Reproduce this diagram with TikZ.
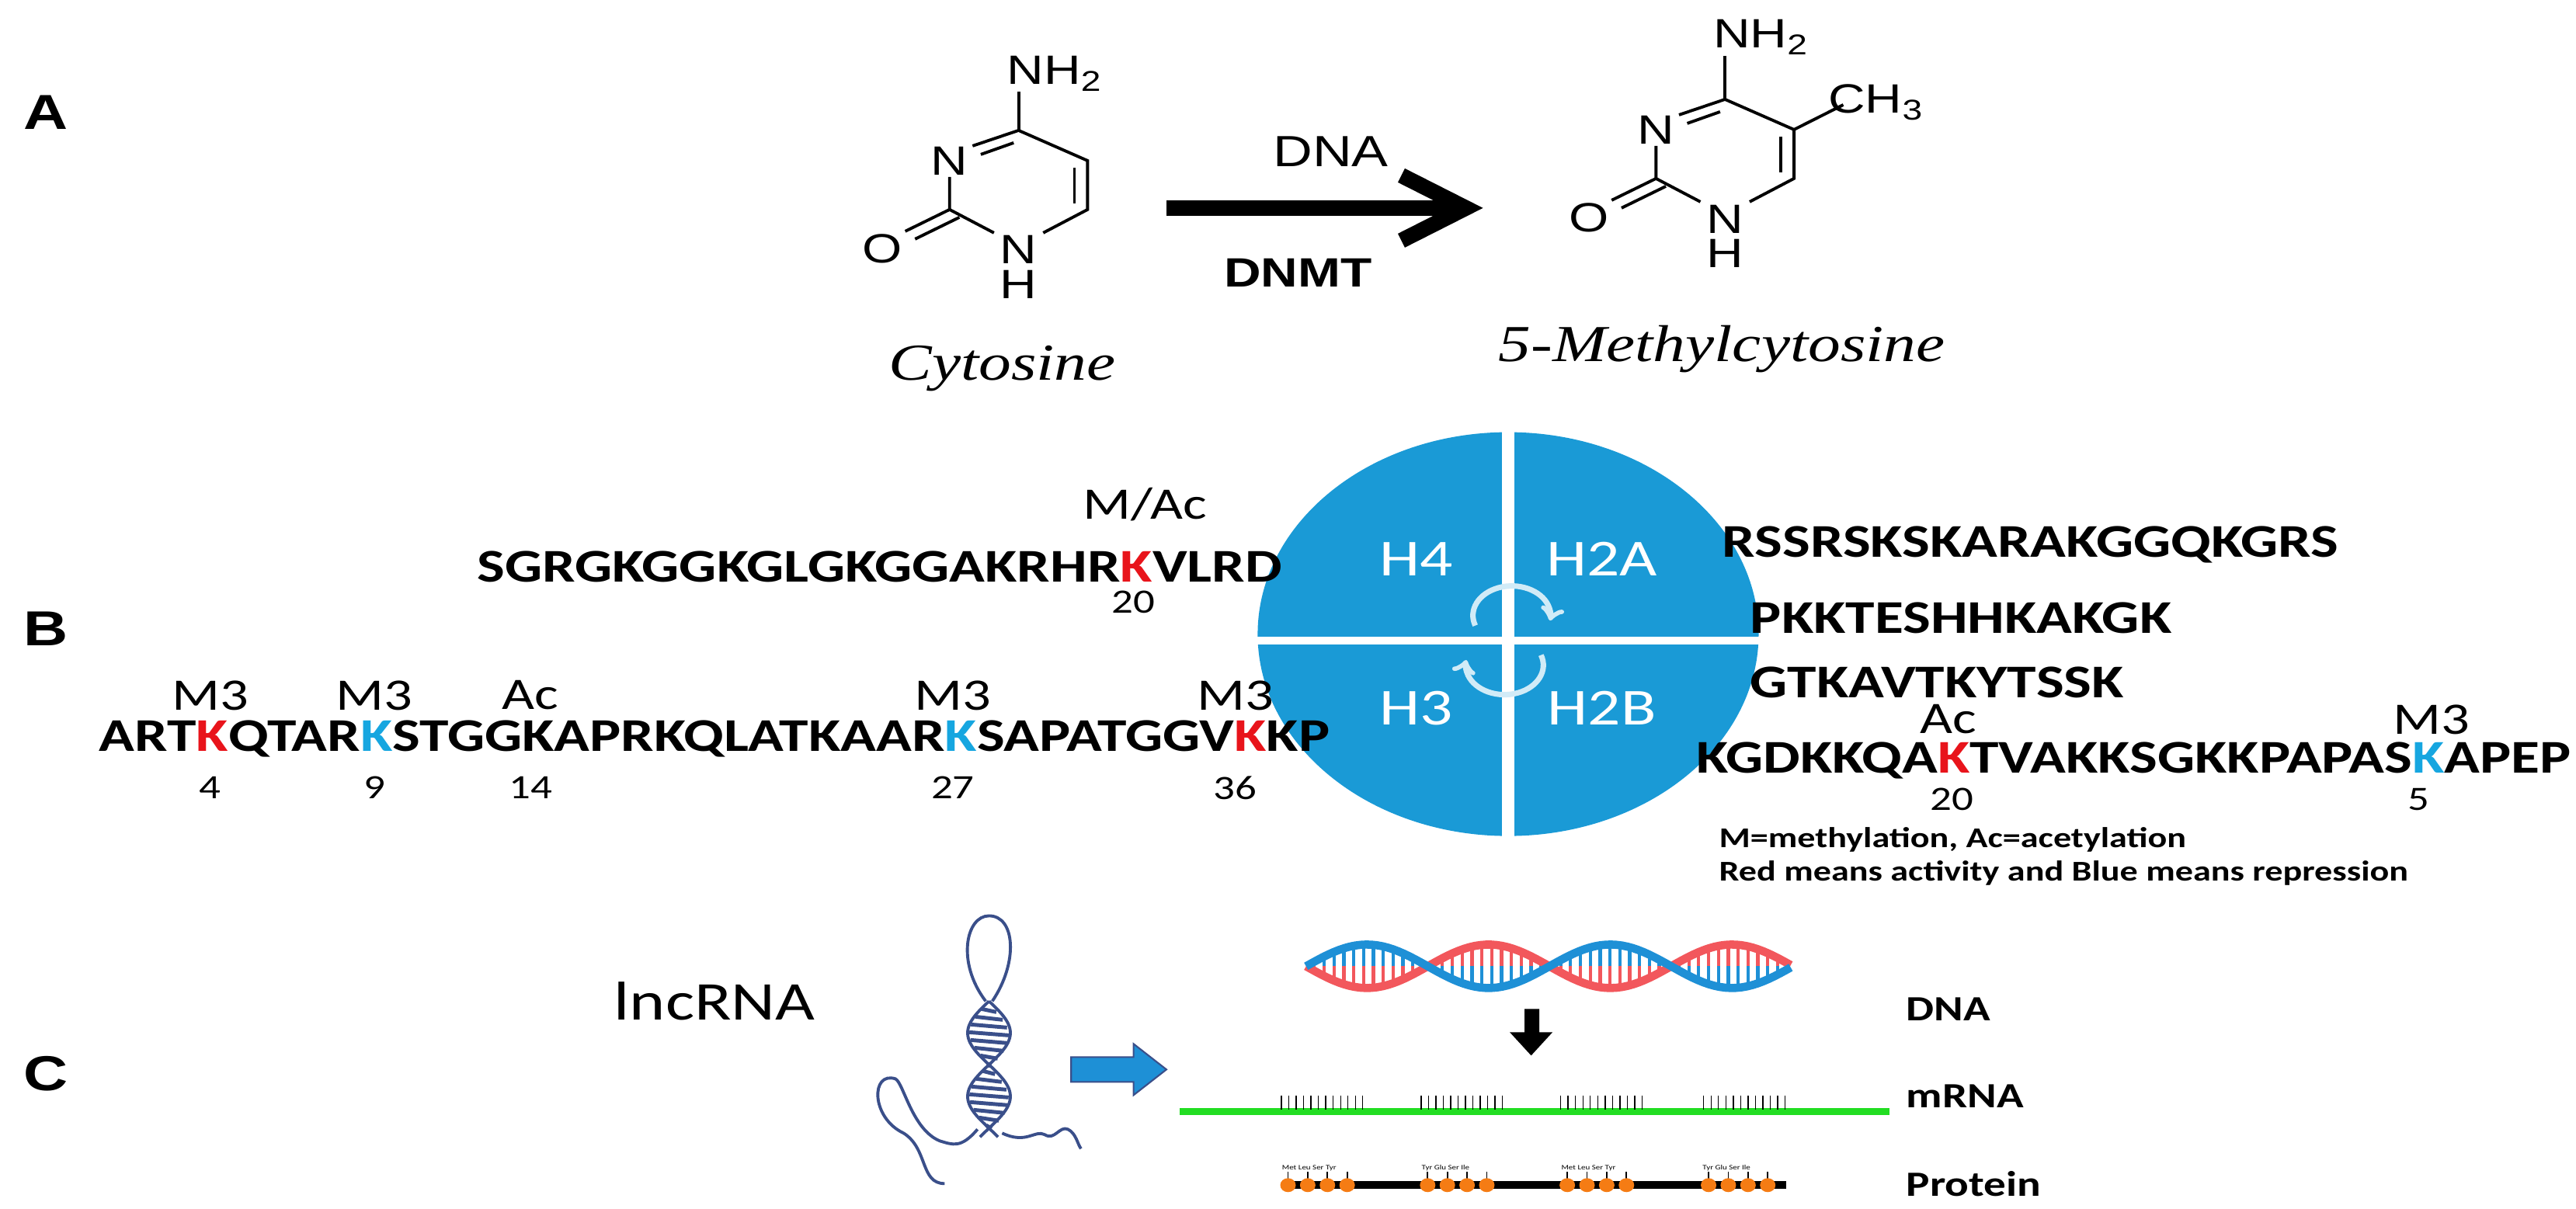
\documentclass[tikz,border=0pt]{standalone}
\usepackage{fontspec}
\setmainfont{Carlito}
\newfontfamily\arialf{Liberation Sans}
\newfontfamily\timesf{Liberation Serif}
\usepackage{xcolor}
\usetikzlibrary{calc}
\definecolor{kred}{HTML}{E8141B}
\definecolor{kblue}{HTML}{16A6E0}
\definecolor{hblue}{HTML}{1A9AD6}
\definecolor{rnablue}{HTML}{3A4F8A}
\definecolor{dnared}{HTML}{F2575C}
\definecolor{dnablue}{HTML}{1E90D6}
\definecolor{mgreen}{HTML}{22DD22}
\definecolor{aaorange}{HTML}{F57C14}
\newcommand{\kr}{\textcolor{kred}{K}}
\newcommand{\kb}{\textcolor{kblue}{K}}
\tikzset{
  atom/.style={font=\arialf\fontsize{15}{15}\selectfont, inner sep=0pt},
  bond/.style={line width=1.1pt},
  seq/.style={font=\bfseries\fontsize{17.2}{18}\selectfont, inner sep=0pt, anchor=base west},
  ptm/.style={font=\fontsize{16.5}{17}\selectfont, inner sep=0pt},
  resnum/.style={font=\fontsize{12.5}{13}\selectfont, inner sep=0pt},
  panel/.style={font=\arialf\bfseries\fontsize{18}{18}\selectfont, inner sep=0pt},
  hist/.style={font=\fontsize{19}{19}\selectfont, text=white, inner sep=0pt},
  lbl/.style={font=\bfseries\fontsize{13}{13}\selectfont, inner sep=0pt, anchor=west}
}
\newcommand{\cytring}{%
	\draw[bond] (620,168) -- (662,207) -- (662,270) -- (635,300);
	\draw[bond] (654,216) -- (654,262);
	\draw[bond] (605,300) -- (578,270) -- (578,228);
	\draw[bond] (592,188) -- (620,168);
	\draw[bond] (597,199) -- (617,184);
	\draw[bond] (578,270) -- (551,298);
	\draw[bond] (584,280) -- (557,308);
	\node[atom] (n3) at (578,207) {N};
	\node[atom] (n1) at (620,322) {N};
	\node[atom] (h1) at (620,367) {H};
	\node[atom] (o2) at (537,320) {O};
}
\begin{document}
\begin{tikzpicture}[x=0.01692cm, y=-0.01cm, xscale=1.25, every node/.append style={transform shape}]
	\useasboundingbox (0,0) rectangle (1568,1557);
	% A
	\node[panel] (pa) at (28,145) {A};
	\cytring
	\node[atom] (nh2a) at (642,95) {NH\textsubscript{2}};
	\draw[bond] (620,118) -- (620,168);
	\node[font=\timesf\itshape\fontsize{19}{19}\selectfont] (cyt) at (610,475) {Cytosine};
	\begin{scope}[shift={(430,-40)}]
		\cytring
		\node[atom] (nh2b) at (642,88) {NH\textsubscript{2}};
		\draw[bond] (620,112) -- (620,168);
		\draw[bond] (662,207) -- (692,175);
		\node[atom] (ch3) at (712,172) {CH\textsubscript{3}};
	\end{scope}
	\node[font=\timesf\itshape\fontsize{19}{19}\selectfont] (mcyt) at (1048,450) {5-Methylcytosine};
	\coordinate (a0) at (710,268);
	\coordinate (a1) at (892,268);
	\draw[line width=5.7pt] (a0) -- (a1);
	\draw[line width=5.7pt, line join=miter] (853,226) -- (a1) -- (853,310);
	\node[font=\arialf\fontsize{16}{16}\selectfont] (dna) at (810,195) {DNA};
	\node[font=\arialf\bfseries\fontsize{15}{15}\selectfont] (dnmt) at (790,352) {DNMT};
	% B
	\node[panel] (pb) at (28,810) {B};
	\fill[hblue] (918,817) ellipse [x radius=2.58cm, y radius=2.6cm];
	\fill[white] (914,555) rectangle (922,1080);
	\fill[white] (760,820) rectangle (1075,830);
	\node[hist] (h4) at (862,720) {H4};
	\node[hist] (h2a) at (975,720) {H2A};
	\node[hist] (h3) at (862,912) {H3};
	\node[hist] (h2b) at (975,912) {H2B};
	\draw[white!80!hblue, line width=2pt, ->] (898,806) arc [start angle=200, end angle=-10, x radius=0.4cm, y radius=0.38cm];
	\draw[white!80!hblue, line width=2pt, ->] (938,844) arc [start angle=20, end angle=-190, x radius=0.4cm, y radius=0.38cm];
	% H4 tail
	\node[seq] (h4s) at (290,750) {SGRGKGGKGLGKGGAKRHR\kr VLRD};
	\node[ptm] at (697,650) {M/Ac};
	\node[resnum] at (690,776) {20};
	% H3 tail
	\node[seq] (h3s) at (60,968) {ART\kr QTAR\kb STGGKAPRKQLATKAAR\kb SAPATGGV\kr KP};
	\foreach \x/\m/\n in {128/M3/4, 228/M3/9, 323/Ac/14, 580/M3/27, 752/M3/36} {
		\node[ptm] at (\x,896) {\m};
		\node[resnum] at (\x,1015) {\n};
	}
	% H2A / H2B tails
	\node[seq] (h2as) at (1048,718) {RSSRSKSKARAKGGQKGRS};
	\node[seq] (h2am) at (1065,816) {PKKTESHHKAKGK};
	\node[seq] (h2bs) at (1065,899) {GTKAVTKYTSSK};
	\node[seq] (h2bm) at (1032,996) {KGDKKQA\kr TVAKKSGKKPAPAS\kb APEP};
	\node[ptm] at (1186,927) {Ac};
	\node[resnum] at (1188,1030) {20};
	\node[ptm] at (1480,927) {M3};
	\node[resnum] at (1472,1030) {5};
	\node[lbl, font=\bfseries\fontsize{10.5}{11}\selectfont] (leg1) at (1046,1082) {M=methylation, Ac=acetylation};
	\node[lbl, font=\bfseries\fontsize{10.5}{11}\selectfont] (leg2) at (1046,1125) {Red means activity and Blue means repression};
	% C
	\node[panel] (pc) at (28,1383) {C};
	\node[font=\fontsize{20}{20}\selectfont] (lnc) at (435,1290) {lncRNA};
	\draw[rnablue, line width=1.1pt] (600,1290) .. controls (582,1240) and (588,1180) .. (602,1180) .. controls (618,1180) and (620,1240) .. (604,1290);
	\draw[rnablue, line width=1.1pt] plot[domain=1290:1465, samples=60] ({602+13*sin((\x-1290)*2.2)}, \x);
	\draw[rnablue, line width=1.1pt] plot[domain=1290:1465, samples=60] ({602-13*sin((\x-1290)*2.2)}, \x);
	\foreach \y in {1300,1310,...,1450}
		\draw[rnablue, line width=1.4pt] ({602-12*abs(sin((\y-1290)*2.2))}, \y) -- ({602+12*abs(sin((\y-1290)*2.2))}, \y+4);
	\draw[rnablue, line width=1.1pt] (595,1455) .. controls (585,1480) and (580,1475) .. (572,1470) .. controls (555,1455) and (550,1395) .. (545,1390) .. controls (530,1380) and (530,1440) .. (550,1460) .. controls (565,1480) and (560,1525) .. (575,1525);
	\draw[rnablue, line width=1.1pt] (610,1460) .. controls (625,1475) and (630,1455) .. (636,1462) .. controls (642,1470) and (645,1450) .. (650,1455) .. controls (655,1460) and (656,1475) .. (658,1480);
	\draw[fill=dnablue, draw=rnablue, line width=0.6pt] (652,1362) -- (690,1362) -- (690,1345) -- (710,1378) -- (690,1411) -- (690,1394) -- (652,1394) -- cycle;
	% DNA helix
	\foreach \x in {800,806,...,1086} {
		\draw[dnared, line width=1.2pt] (\x,{1245+24*sin((\x-795)*2.43)}) -- (\x,1245);
		\draw[dnablue, line width=1.2pt] (\x,1245) -- (\x,{1245-24*sin((\x-795)*2.43)});
	}
	\draw[dnared, line width=3pt] plot[domain=795:1090, samples=90] (\x, {1245+28*sin((\x-795)*2.43)});
	\draw[dnablue, line width=3pt] plot[domain=795:1090, samples=90] (\x, {1245-28*sin((\x-795)*2.43)});
	\fill (928,1300) -- (937,1300) -- (937,1330) -- (945,1330) -- (932,1360) -- (919,1330) -- (928,1330) -- cycle;
	% mRNA
	\coordinate (m0) at (718,1432);
	\coordinate (m1) at (1150,1432);
	\draw[mgreen, line width=2.4pt] (m0) -- (m1);
	\foreach \g in {780,865,950,1037}
		\foreach \i in {0,...,11}
			\draw[line width=0.4pt] (\g+\i*4.5,1412) -- (\g+\i*4.5,1430);
	% protein
	\coordinate (p0) at (782,1527);
	\coordinate (p1) at (1087,1527);
	\draw[line width=2.8pt] (p0) -- (p1);
	\foreach \g/\aa in {784/{Met Leu Ser Tyr},869/{Tyr Glu Ser Ile},954/{Met Leu Ser Tyr},1040/{Tyr Glu Ser Ile}} {
		\node[font=\fontsize{2.5}{3}\selectfont, inner sep=0pt, anchor=west] at (\g-4,1505) {\aa};
		\foreach \i in {0,...,3} {
			\draw[line width=0.5pt] (\g+\i*12,1510) -- (\g+\i*12,1527);
			\fill[aaorange] (\g+\i*12,1527) ellipse [x radius=0.08cm, y radius=0.09cm];
		}
	}
	\node[lbl] (ldna) at (1160,1300) {DNA};
	\node[lbl] (lmrna) at (1160,1412) {mRNA};
	\node[lbl] (lprot) at (1160,1525) {Protein};
\end{tikzpicture}
\end{document}
